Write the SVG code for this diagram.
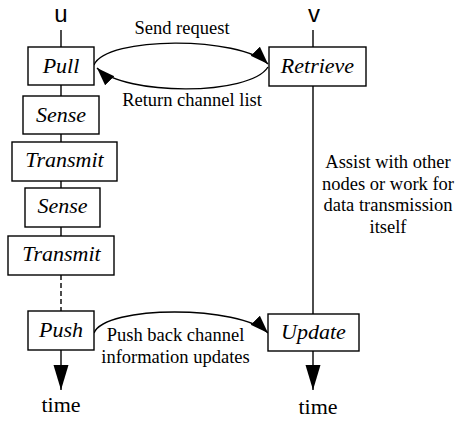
<svg xmlns="http://www.w3.org/2000/svg" width="456" height="421" viewBox="0 0 456 421">
<defs>
<style>
.box{fill:#fff;stroke:#000;stroke-width:1.4}
.ln{fill:none;stroke:#000;stroke-width:1.4}
.lbl{font-style:italic;font-size:22px;text-anchor:middle;fill:#000}
.txt{font-size:18.5px;text-anchor:middle;fill:#000}
.time{font-size:22px;text-anchor:middle;fill:#000}
.ax{font-size:24px;text-anchor:middle;fill:#000}
</style>
<marker id="ah" markerUnits="userSpaceOnUse" markerWidth="20" markerHeight="14" refX="18" refY="6.5" orient="auto">
<path d="M0,0 L18,6.5 L0,13 z" fill="#000"/>
</marker>
<marker id="ta" markerUnits="userSpaceOnUse" markerWidth="26" markerHeight="16" refX="25" refY="7.5" orient="auto">
<path d="M0,0 L25,7.5 L0,15 z" fill="#000"/>
</marker>
</defs>
<g id="axis-labels" font-family="Liberation Sans, Arial, sans-serif">
<text class="ax" x="61" y="22">u</text>
<text class="ax" x="314" y="22">v</text>
</g>
<g id="connectors">
<line class="ln" x1="61" y1="30" x2="61" y2="275"/>
<line class="ln" x1="61" y1="275" x2="61" y2="311" stroke-dasharray="5,3"/>
<line class="ln" x1="61" y1="350" x2="61" y2="390" marker-end="url(#ta)"/>
<line class="ln" x1="313" y1="30" x2="313" y2="314"/>
<line class="ln" x1="313" y1="351" x2="313" y2="390" marker-end="url(#ta)"/>
<path class="ln" d="M94,65 C106,36 240,36 268,64" marker-end="url(#ah)"/>
<path class="ln" d="M268,67 C250,96 125,96 97,68" marker-end="url(#ah)"/>
<path class="ln" d="M94,333 C105,305 240,305 268,333" marker-end="url(#ah)"/>
</g>
<g id="nodes" font-family="Liberation Serif, serif">
<g id="pull"><rect class="box" x="28" y="47" width="66" height="38"/><text class="lbl" x="61" y="73">Pull</text></g>
<g id="sense1"><rect class="box" x="23" y="96" width="76" height="38"/><text class="lbl" x="61" y="122">Sense</text></g>
<g id="transmit1"><rect class="box" x="12" y="142" width="105" height="39"/><text class="lbl" x="64.5" y="167">Transmit</text></g>
<g id="sense2"><rect class="box" x="25" y="188" width="75" height="39"/><text class="lbl" x="62.5" y="213">Sense</text></g>
<g id="transmit2"><rect class="box" x="8" y="236" width="106" height="39"/><text class="lbl" x="61.5" y="261">Transmit</text></g>
<g id="push"><rect class="box" x="28" y="311" width="66" height="39"/><text class="lbl" x="61" y="337">Push</text></g>
<g id="retrieve"><rect class="box" x="269" y="47" width="97" height="39"/><text class="lbl" x="317.5" y="73">Retrieve</text></g>
<g id="update"><rect class="box" x="268" y="314" width="91" height="37"/><text class="lbl" x="313.5" y="339">Update</text></g>
</g>
<g id="labels" font-family="Liberation Serif, serif">
<text class="txt" x="182" y="34">Send request</text>
<text class="txt" x="192" y="106">Return channel list</text>
<text class="txt" x="388" y="168">Assist with other</text>
<text class="txt" x="388" y="190">nodes or work for</text>
<text class="txt" x="388" y="211">data transmission</text>
<text class="txt" x="388" y="233">itself</text>
<text class="txt" x="175.5" y="341">Push back channel</text>
<text class="txt" x="175.5" y="363">information updates</text>
<text class="time" x="61" y="412">time</text>
<text class="time" x="318" y="414">time</text>
</g>
</svg>
